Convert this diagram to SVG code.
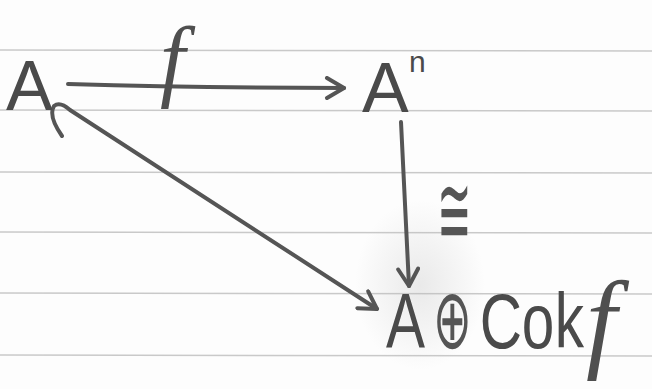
<svg xmlns="http://www.w3.org/2000/svg" width="652" height="389" viewBox="0 0 652 389">
<style>
.paper{stroke:#c9c9c9;stroke-width:1.5}
.edge{fill:none;stroke:#555;stroke-width:4;stroke-linecap:round;stroke-linejoin:round}
.lbl{font-family:"Liberation Sans",Arial,sans-serif;fill:#4a4a4a}
.it{font-family:"Liberation Serif","Times New Roman",serif;font-style:italic;fill:#4f4f4f}
.sym{font-family:"DejaVu Sans",sans-serif;fill:#555}
</style>
<defs>
<radialGradient id="smudge" cx="0.5" cy="0.5" r="0.5">
<stop offset="0" stop-color="#bbb" stop-opacity="0.3"/>
<stop offset="1" stop-color="#bbb" stop-opacity="0"/>
</radialGradient>
<marker id="head" viewBox="0 0 24 24" refX="21" refY="12" markerWidth="24" markerHeight="24" markerUnits="userSpaceOnUse" orient="auto">
<path d="M4,2 L21,12 L4,22" fill="none" stroke="#555" stroke-width="4" stroke-linecap="round" stroke-linejoin="round"/>
</marker>
</defs>
<rect width="652" height="389" fill="#fdfdfd"/>
<g id="paper">
<line class="paper" x1="0" y1="50" x2="652" y2="51"/>
<line class="paper" x1="0" y1="110" x2="652" y2="111"/>
<line class="paper" x1="0" y1="172" x2="652" y2="173"/>
<line class="paper" x1="0" y1="232" x2="652" y2="233"/>
<line class="paper" x1="0" y1="293" x2="652" y2="294"/>
<line class="paper" x1="0" y1="355" x2="652" y2="356"/>
<ellipse cx="420" cy="285" rx="65" ry="85" fill="url(#smudge)"/>
</g>
<g id="connectors">
<path id="e-f" class="edge" d="M68,84 Q200,88 344,88" marker-end="url(#head)"/>
<path id="e-iso" class="edge" d="M401,122 L409,286" marker-end="url(#head)"/>
<path id="e-inc" class="edge" d="M62,136 Q48,116 54,106 Q60,101 70,110 L377,309" marker-end="url(#head)"/>
<text class="it" x="160" y="90" font-size="90">f</text>
<text class="sym" transform="translate(437,244) scale(0.42,1)" font-size="98">≅</text>
</g>
<g id="node-A">
<text class="lbl" x="6" y="110" font-size="70">A</text>
</g>
<g id="node-An">
<text class="lbl" x="362" y="112" font-size="70">A</text>
<text class="lbl" x="409" y="72" font-size="30">n</text>
</g>
<g id="node-sum">
<text class="lbl" font-size="78" transform="translate(386,348) scale(0.75,1)"><tspan x="0">A</tspan><tspan x="125">C</tspan><tspan x="181">o</tspan><tspan x="225">k</tspan></text>
<text class="sym" font-size="84" transform="translate(433,348) scale(0.55,1)">⊕</text>
<text class="it" x="586" y="358" font-size="110">f</text>
</g>
</svg>
